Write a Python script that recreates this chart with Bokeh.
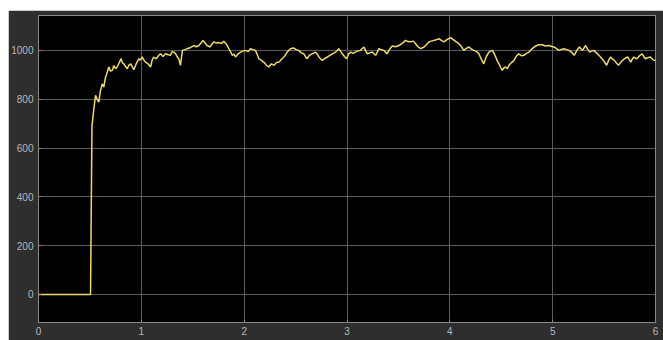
from bokeh.plotting import figure
from bokeh.models import ColumnDataSource, Range1d, FixedTicker
from bokeh.embed import file_html
from bokeh.resources import INLINE

# time (s) and signal value
time = [0, 0.50, 0.506, 0.52, 0.538, 0.555, 0.57, 0.587, 0.60, 0.62, 0.635, 0.652, 0.665, 0.684, 0.70,
        0.717, 0.733, 0.75, 0.765, 0.785, 0.804, 0.815, 0.83, 0.845, 0.863, 0.88, 0.895, 0.91, 0.927, 0.95,
        0.976, 0.99, 1.008, 1.025, 1.04, 1.065, 1.09, 1.105, 1.12, 1.145, 1.17, 1.187, 1.21, 1.235, 1.26,
        1.284, 1.30, 1.316, 1.335, 1.35, 1.365, 1.38, 1.40, 1.425, 1.446, 1.48, 1.51, 1.535, 1.56, 1.58,
        1.60, 1.62, 1.64, 1.67, 1.685, 1.705, 1.73, 1.754, 1.78, 1.80, 1.82, 1.835, 1.86, 1.884, 1.90,
        1.916, 1.94, 1.965, 1.99, 2.014, 2.04, 2.06, 2.085, 2.11, 2.125, 2.143, 2.165, 2.19, 2.215, 2.24,
        2.265, 2.29, 2.315, 2.34, 2.365, 2.386, 2.40, 2.42, 2.435, 2.45, 2.48, 2.505, 2.53, 2.555, 2.58,
        2.595, 2.61, 2.635, 2.66, 2.695, 2.71, 2.727, 2.745, 2.76, 2.785, 2.81, 2.835, 2.857, 2.89, 2.92,
        2.94, 2.955, 2.975, 2.996, 3.015, 3.035, 3.06, 3.08, 3.105, 3.13, 3.165, 3.18, 3.197, 3.22, 3.246,
        3.265, 3.28, 3.31, 3.335, 3.36, 3.39, 3.415, 3.44, 3.47, 3.505, 3.54, 3.57, 3.595, 3.62, 3.645,
        3.667, 3.69, 3.716, 3.75, 3.775, 3.80, 3.82, 3.845, 3.87, 3.894, 3.92, 3.943, 3.975, 4.008, 4.03,
        4.056, 4.08, 4.105, 4.12, 4.137, 4.16, 4.186, 4.21, 4.234, 4.26, 4.283, 4.305, 4.33, 4.355, 4.38,
        4.414, 4.43, 4.446, 4.46, 4.478, 4.495, 4.51, 4.525, 4.543, 4.56, 4.575, 4.60, 4.624, 4.645, 4.67,
        4.695, 4.72, 4.745, 4.77, 4.795, 4.82, 4.845, 4.867, 4.90, 4.93, 4.964, 4.99, 5.013, 5.035, 5.06,
        5.085, 5.11, 5.135, 5.16, 5.185, 5.21, 5.235, 5.26, 5.29, 5.32, 5.34, 5.36, 5.38, 5.40, 5.425,
        5.45, 5.48, 5.50, 5.525, 5.545, 5.564, 5.58, 5.60, 5.62, 5.64, 5.66, 5.68, 5.705, 5.73, 5.745,
        5.76, 5.775, 5.79, 5.805, 5.82, 5.845, 5.87, 5.885, 5.90, 5.925, 5.95, 5.975, 6.0]

signal = [0, 0, 0, 690, 760, 816, 800, 788, 830, 863, 850, 890, 905, 932, 915,
          918, 938, 925, 932, 950, 966, 950, 945, 935, 925, 940, 945, 935, 921, 945,
          966, 960, 973, 960, 952, 945, 932, 960, 973, 965, 980, 986, 975, 986, 982,
          980, 995, 993, 985, 973, 965, 939, 1000, 1003, 1007, 1012, 1020, 1015, 1020, 1030,
          1041, 1030, 1020, 1014, 1025, 1035, 1030, 1032, 1028, 1037, 1030, 1020, 1000, 980, 985,
          973, 985, 993, 998, 1000, 995, 1007, 1003, 1000, 985, 966, 960, 952, 940, 932,
          945, 939, 950, 952, 965, 973, 980, 995, 1000, 1007, 1010, 1003, 1000, 990, 986,
          975, 966, 980, 986, 993, 985, 973, 965, 959, 968, 973, 980, 986, 993, 1007,
          995, 986, 975, 966, 985, 993, 988, 993, 998, 1000, 1014, 1000, 986, 990, 993,
          985, 980, 1007, 1003, 1000, 986, 1005, 1018, 1015, 1020, 1030, 1041, 1036, 1035, 1038,
          1027, 1015, 1007, 1014, 1025, 1035, 1038, 1041, 1044, 1048, 1040, 1035, 1045, 1052, 1045,
          1037, 1030, 1020, 1010, 1000, 1008, 1014, 1005, 1000, 995, 986, 965, 945, 975, 993,
          1000, 988, 973, 958, 945, 930, 918, 928, 932, 925, 939, 950, 959, 975, 986,
          978, 980, 988, 993, 1005, 1014, 1020, 1023, 1023, 1018, 1020, 1016, 1014, 1008, 1000,
          1004, 1007, 1003, 1000, 992, 980, 1000, 1014, 1000, 1020, 1005, 993, 998, 1000, 990,
          980, 966, 955, 939, 960, 973, 965, 959, 948, 939, 950, 959, 968, 973, 962,
          952, 965, 973, 968, 966, 978, 986, 975, 966, 970, 973, 962, 958]

x_ticks = [0, 1, 2, 3, 4, 5, 6]
y_ticks = [0, 200, 400, 600, 800, 1000]

src = ColumnDataSource(dict(t=time, v=signal))

p = figure(width=655, height=330, output_backend="svg", toolbar_location=None,
           x_range=Range1d(0, 6), y_range=Range1d(-115, 1143),
           min_border_left=30, min_border_right=8, min_border_top=5, min_border_bottom=18)
p.margin = (10, 0, 0, 8)

p.background_fill_color = "#000000"
p.border_fill_color = "#2e2e2e"
p.outline_line_color = "#8a8a8a"
p.outline_line_width = 1

p.line("t", "v", source=src, line_color="#ecd96f", line_width=1.5)

for ax in (p.xaxis[0], p.yaxis[0]):
    ax.axis_line_color = None
    ax.major_tick_in = 3
    ax.major_tick_out = 0
    ax.minor_tick_line_color = None
    ax.major_tick_line_color = "#8a8a8a"
    ax.major_label_text_color = "#b8b8b8"
    ax.major_label_text_font = "Liberation Sans"
    ax.major_label_text_font_size = "10px"

p.xaxis.ticker = FixedTicker(ticks=x_ticks)
p.yaxis.ticker = FixedTicker(ticks=y_ticks)
p.xaxis.major_label_standoff = 4
p.yaxis.major_label_standoff = 5

p.xgrid.ticker = FixedTicker(ticks=x_ticks)
p.ygrid.ticker = FixedTicker(ticks=y_ticks)
p.grid.grid_line_color = "#5c5c5c"
p.grid.grid_line_width = 1

open("out.html", "w").write(file_html(p, INLINE))
